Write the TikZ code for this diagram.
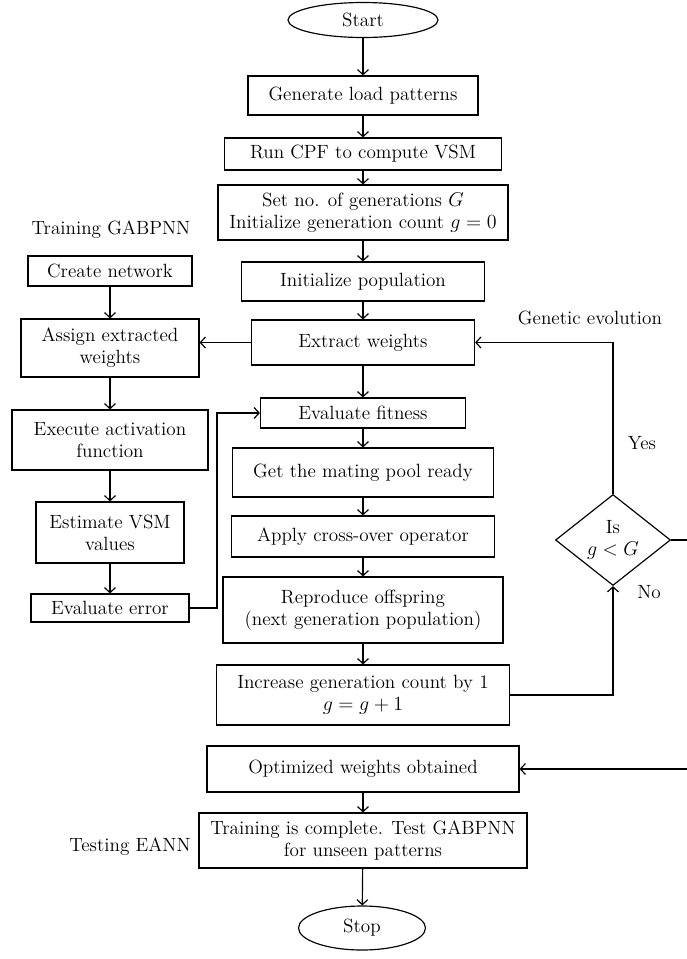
\documentclass[tikz,border=0pt]{standalone}
\usepackage{amsmath}
\usepackage{tikz}
\usetikzlibrary{positioning, arrows.meta, shapes}

\begin{document}
\begin{tikzpicture}[x=0.6pt, y=-0.6pt, line width=0.7pt,
    font=\fontsize{11.5}{13.2}\selectfont,
    >={Straight Barb[length=3pt,width=6.5pt]},
    stepbox/.style={shape=rectangle, draw=black, align=center, inner sep=1pt},
    term/.style={shape=ellipse, draw=black, inner sep=1pt},
    decide/.style={shape=diamond, draw=black, align=center, inner sep=0pt}]
    \useasboundingbox (0,0) rectangle (686,959);

    \node[term, minimum width=90pt, minimum height=21pt] (start) at (363,20) {Start};
    \node[stepbox, minimum width=138pt, minimum height=23.4pt] (gen) at (363,95.5) {Generate load patterns};
    \path [->] (start) edge (gen);
    \node[stepbox, minimum width=166pt, minimum height=19.2pt] (cpf) at (363,154) {Run CPF to compute VSM};
    \path [->] (gen) edge (cpf);
    \node[stepbox, minimum width=174pt, minimum height=33pt] (setgen) at (363,212.5) {Set no. of generations $G$\\Initialize generation count $g=0$};
    \path [->] (cpf) edge (setgen);
    \node[stepbox, minimum width=145.8pt, minimum height=23.4pt] (initpop) at (363,281.5) {Initialize population};
    \path [->] (setgen) edge (initpop);
    \node[stepbox, minimum width=133.8pt, minimum height=27pt] (extract) at (363,342.5) {Extract weights};
    \path [->] (initpop) edge (extract);

    \node[stepbox, minimum width=123pt, minimum height=18pt] (fitness) at (363,413) {Evaluate fitness};
    \path [->] (extract) edge (fitness);
    \node[stepbox, minimum width=156.6pt, minimum height=29.4pt] (mating) at (363,472.5) {Get the mating pool ready};
    \path [->] (fitness) edge (mating);
    \node[stepbox, minimum width=157.8pt, minimum height=24.6pt] (cross) at (363,536.5) {Apply cross-over operator};
    \path [->] (mating) edge (cross);
    \node[stepbox, minimum width=168pt, minimum height=39.6pt] (repro) at (363,610) {Reproduce offspring\\(next generation population)};
    \path [->] (cross) edge (repro);
    \node[stepbox, minimum width=175.8pt, minimum height=36pt] (incr) at (363,695) {Increase generation count by 1\\$g=g+1$};
    \path [->] (repro) edge (incr);

    \node[stepbox, minimum width=187.2pt, minimum height=27.6pt] (optim) at (363,769) {Optimized weights obtained};
    \node[stepbox, minimum width=196.8pt, minimum height=33pt] (trained) at (363,840.5) {Training is complete. Test GABPNN\\for unseen patterns};
    \path [->] (optim) edge (trained);
    \node[term, minimum width=76.2pt, minimum height=26.4pt] (stop) at (362,928) {Stop};
    \path [->] (trained) edge (stop);

    \node (trainlbl) at (111,230) {Training GABPNN};
    \node[stepbox, minimum width=98.4pt, minimum height=18pt] (create) at (110,271) {Create network};
    \node[stepbox, minimum width=106.8pt, minimum height=34.8pt] (assign) at (110,348) {Assign extracted\\weights};
    \path [->] (create) edge (assign);
    \node[stepbox, minimum width=117.6pt, minimum height=36pt] (exec) at (110,440) {Execute activation\\function};
    \path [->] (assign) edge (exec);
    \node[stepbox, minimum width=88.8pt, minimum height=36.6pt] (estim) at (110,532.5) {Estimate VSM\\values};
    \path [->] (exec) edge (estim);
    \node[stepbox, minimum width=94.8pt, minimum height=16.8pt] (everr) at (110,608) {Evaluate error};
    \path [->] (estim) edge (everr);
    \node (testlbl) at (130,847) {Testing EANN};

    \path [->] (extract.west) edge (extract.west -| assign.east);
    \coordinate (back) at (217,413);
    \draw [->] (everr.east) -- (everr.east -| back) |- (fitness.west);

    \node[decide, minimum width=69pt, minimum height=54.6pt] (check) at (613,540) {Is\\$g<G$};
    \node (genlbl) at (590,318) {Genetic evolution};
    \node (yes) at (642,443) {Yes};
    \node (no) at (649,592) {No};
    \draw [->] (check.north) |- (extract.east);
    \draw [->] (incr.east) -| (check.south);
    \coordinate (outside) at (700,540);
    \draw [->] (check.east) -- (outside) |- (optim.east);

\end{tikzpicture}
\end{document}
